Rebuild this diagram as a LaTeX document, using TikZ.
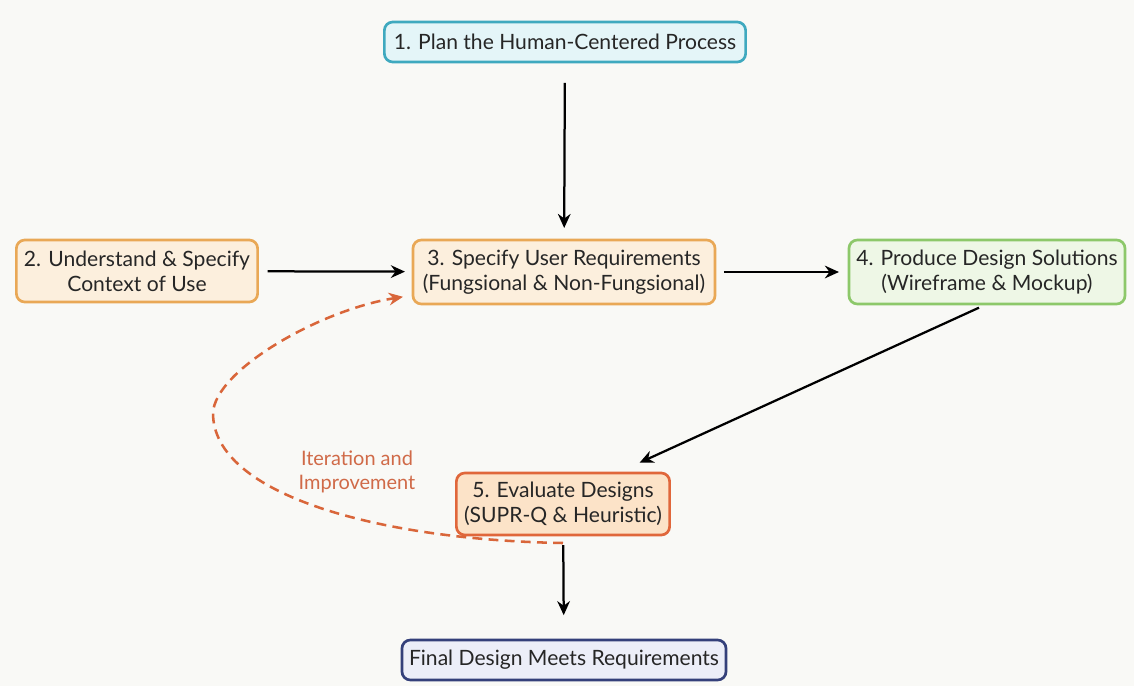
\documentclass[tikz,border=0pt]{standalone}
\usepackage{fontspec}
\setmainfont{Lato}
\usetikzlibrary{arrows.meta}

\definecolor{bgcol}{HTML}{F9F9F6}
\definecolor{txtcol}{HTML}{262626}
\definecolor{tealline}{HTML}{3FA9BF}
\definecolor{tealfill}{HTML}{E4F5F8}
\definecolor{sandline}{HTML}{E9A856}
\definecolor{sandfill}{HTML}{FCEFDD}
\definecolor{leafline}{HTML}{8DC86A}
\definecolor{leaffill}{HTML}{EEF7E6}
\definecolor{rustline}{HTML}{E0673B}
\definecolor{rustfill}{HTML}{FCE3C8}
\definecolor{navyline}{HTML}{34407A}
\definecolor{navyfill}{HTML}{ECEEF8}
\definecolor{loopcol}{HTML}{D9663A}
\definecolor{looptxt}{HTML}{D06A48}

\begin{document}
\begin{tikzpicture}[x=0.025cm,y=-0.025cm,
  every node/.style={inner sep=0,outer sep=0},
  stage/.style 2 args={draw=#1,fill=#2,line width=1.9pt,rounded corners=6pt,
    align=center,text=txtcol,font=\fontsize{15}{18}\selectfont},
  flow/.style={line width=1.6pt,-{Stealth[length=10pt,width=9pt]}},
  loopback/.style={loopcol,line width=1.8pt,dash pattern=on 7pt off 4.5pt,
    -{Stealth[length=10pt,width=9pt]}}]
  \fill[bgcol] (0,0) rectangle (1134,686);

  %% Top and left stages.
  \node[stage={tealline}{tealfill},minimum width=9.03cm,minimum height=1cm] (plan) at (565,42) {1. Plan the Human-Centered Process};
  \node[stage={sandline}{sandfill},minimum width=6.03cm,minimum height=1.55cm] (context) at (137,271) {2. Understand \& Specify\\Context of Use};
  %% Middle row.
  \node[stage={sandline}{sandfill},minimum width=7.55cm,minimum height=1.6cm] (require) at (564,272) {3. Specify User Requirements\\(Fungsional \& Non-Fungsional)};
  \node[stage={leafline}{leaffill},minimum width=6.9cm,minimum height=1.6cm] (produce) at (987,272) {4. Produce Design Solutions\\(Wireframe \& Mockup)};
  %% Evaluation and result.
  \node[stage={rustline}{rustfill},minimum width=5.33cm,minimum height=1.55cm] (evaluate) at (563,504) {5. Evaluate Designs\\(SUPR-Q \& Heuristic)};
  \node[stage={navyline}{navyfill},minimum width=8.1cm,minimum height=1cm] (final) at (564,660) {Final Design Meets Requirements};

  \node[align=center,text=looptxt,font=\fontsize{14.2}{17}\selectfont] (iter) at (357,472) {Iteration and\\Improvement};

  \coordinate (fork) at ([yshift=-0.2cm]evaluate.south);
  \coordinate (back) at ([xshift=-0.25cm,yshift=0.18cm]require.south west);

  \draw[flow,shorten <=0.52cm,shorten >=0.3cm] (plan) -- (require);
  \draw[flow,shorten <=0.25cm,shorten >=0.2cm] (context) -- (require);
  \draw[flow,shorten <=0.22cm,shorten >=0.25cm] (require) -- (produce);
  \draw[flow,shorten <=0.22cm,shorten >=0.62cm] (produce.south) -- ([xshift=1.35cm]evaluate.north);
  \draw[flow,shorten <=0.25cm,shorten >=0.62cm] (evaluate) -- (final);

  \draw[loopback] (fork) .. controls (380,540) and (213,495) .. (213,413)
    .. controls (215,370) and (320,310) .. (back);
\end{tikzpicture}
\end{document}
